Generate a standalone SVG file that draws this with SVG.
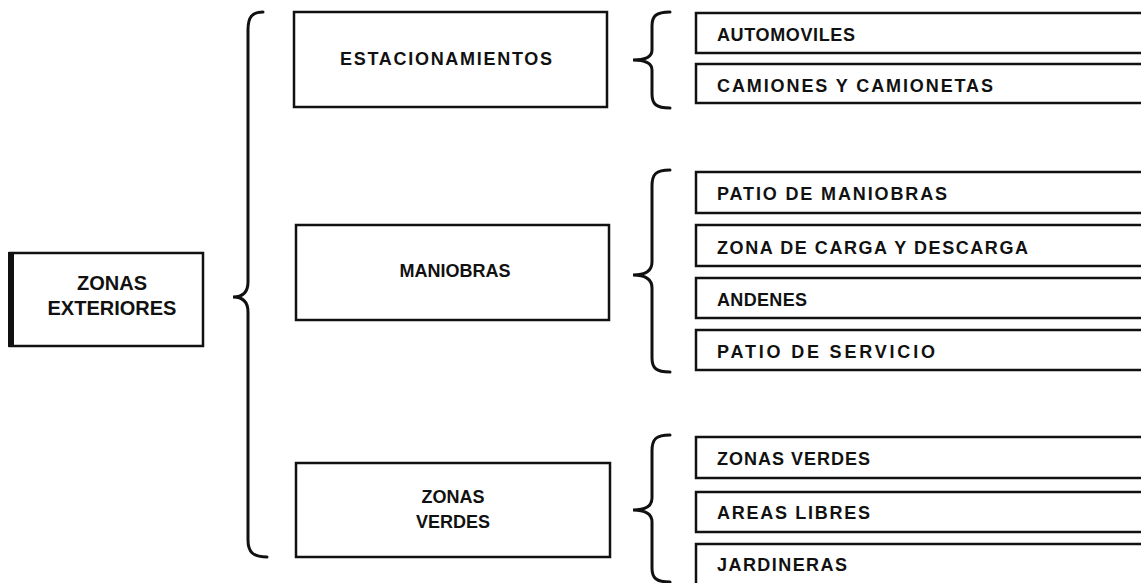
<svg xmlns="http://www.w3.org/2000/svg" width="1141" height="583" viewBox="0 0 1141 583">
<style>
.box{fill:#fff;stroke:#111;stroke-width:2.5}
.br{fill:none;stroke:#111;stroke-width:3;stroke-linecap:round}
.t{font-family:"Liberation Sans",Arial,sans-serif;font-weight:bold;fill:#111}
.c{font-size:18px;text-anchor:middle}
.i{font-size:18px}
</style>
<rect width="1141" height="583" fill="#fff"/>
<g id="connectors">
<path class="br" d="M263 12 C252 12,248 17,248 30 L248 282 C248 292,243 297,233 297 C243 297,248 302,248 312 L248 540 C248 552,253 557,267 557"/>
<path class="br" d="M670 12 C656 12,652 16,652 26 L652 50 C652 56,646 60,633 60 C646 60,652 64,652 70 L652 94 C652 104,656 108,670 108"/>
<path class="br" d="M670 170 C656 170,652 174,652 186 L652 262 C652 270,646 275,633 275 C646 275,652 280,652 288 L652 358 C652 368,656 372,670 372"/>
<path class="br" d="M670 435 C656 435,652 439,652 451 L652 498 C652 506,646 510,633 510 C646 510,652 514,652 522 L652 568 C652 578,656 582,670 582"/>
</g>
<g id="zonas-exteriores">
<rect class="box" x="10" y="253" width="193" height="93"/>
<line x1="11" y1="252" x2="11" y2="347" stroke="#111" stroke-width="6"/>
<text class="t c" x="112" y="290" style="font-size:20px">ZONAS</text>
<text class="t c" x="112" y="315" style="font-size:20px">EXTERIORES</text>
</g>
<g id="estacionamientos">
<rect class="box" x="294" y="12" width="313" height="95"/>
<text class="t c" x="446" y="65" textLength="212">ESTACIONAMIENTOS</text>
</g>
<g id="maniobras">
<rect class="box" x="296" y="225" width="313" height="95"/>
<text class="t c" x="455" y="277">MANIOBRAS</text>
</g>
<g id="zonas-verdes">
<rect class="box" x="296" y="463" width="314" height="94"/>
<text class="t c" x="453" y="503">ZONAS</text>
<text class="t c" x="453" y="528">VERDES</text>
</g>
<g id="automoviles"><rect class="box" x="696" y="13" width="460" height="40"/><text class="t i" x="717" y="41" textLength="138">AUTOMOVILES</text></g>
<g id="camiones"><rect class="box" x="696" y="64" width="460" height="39"/><text class="t i" x="717" y="92" textLength="276">CAMIONES Y CAMIONETAS</text></g>
<g id="patio-maniobras"><rect class="box" x="696" y="172" width="460" height="41"/><text class="t i" x="717" y="200" textLength="230">PATIO DE MANIOBRAS</text></g>
<g id="zona-carga"><rect class="box" x="696" y="225" width="460" height="41"/><text class="t i" x="717" y="254" textLength="311">ZONA DE CARGA Y DESCARGA</text></g>
<g id="andenes"><rect class="box" x="696" y="278" width="460" height="40"/><text class="t i" x="717" y="306" textLength="90">ANDENES</text></g>
<g id="patio-servicio"><rect class="box" x="696" y="330" width="460" height="40"/><text class="t i" x="717" y="358" textLength="218">PATIO DE SERVICIO</text></g>
<g id="item-zonas-verdes"><rect class="box" x="696" y="437" width="460" height="41"/><text class="t i" x="717" y="465" textLength="153">ZONAS VERDES</text></g>
<g id="areas-libres"><rect class="box" x="696" y="492" width="460" height="40"/><text class="t i" x="717" y="519" textLength="153">AREAS LIBRES</text></g>
<g id="jardineras"><rect class="box" x="696" y="544" width="460" height="50"/><text class="t i" x="717" y="571" textLength="130">JARDINERAS</text></g>
</svg>
